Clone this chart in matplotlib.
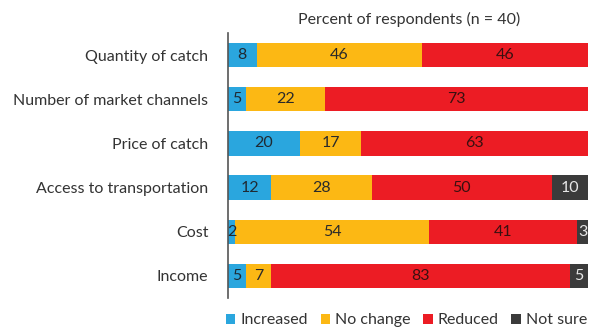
import matplotlib.pyplot as plt
import numpy as np

plt.rcParams['font.family'] = ['Lato', 'DejaVu Sans']

categorias = ["Quantity of catch", "Number of market channels", "Price of catch",
              "Access to transportation", "Cost", "Income"]
increased = [8, 5, 20, 12, 2, 5]
no_change = [46, 22, 17, 28, 54, 7]
reduced = [46, 73, 63, 50, 41, 83]
not_sure = [0, 0, 0, 10, 3, 5]

series = [
    ("Increased", increased, "#2aa6de", "#1f2a33"),
    ("No change", no_change, "#fcb814", "#2a2a2a"),
    ("Reduced", reduced, "#ec1c24", "#3a1010"),
    ("Not sure", not_sure, "#3b3b3b", "#e6e6e6"),
]

fig = plt.figure(figsize=(5.89, 3.31), dpi=100)
ax = fig.add_axes([0.387, 0.10, 0.611, 0.80])

y = np.arange(len(categorias))
izq = np.zeros(len(categorias))
for nombre, valores, color, txt in series:
    valores = np.array(valores, dtype=float)
    ax.barh(y, valores, left=izq, height=0.55, color=color, label=nombre)
    for yi, l, v in zip(y, izq, valores):
        if v > 0:
            ax.text(l + v / 2, yi, f"{int(v)}", ha='center', va='center',
                    fontsize=11.5, color=txt)
    izq += valores

ax.set_xlim(0, 100)
ax.set_ylim(len(categorias) - 0.5, -0.5)
ax.set_yticks(y)
ax.set_yticklabels(categorias, fontsize=11.5, color='#333333')
ax.tick_params(axis='y', length=0, pad=14)
ax.set_xticks([])
for lado in ['top', 'right', 'bottom']:
    ax.spines[lado].set_visible(False)
ax.spines['left'].set_color('#555555')
ax.spines['left'].set_linewidth(1.2)

fig.text(0.694, 0.94, "Percent of respondents (n = 40)", ha='center', va='center',
         fontsize=11.5, color='#333333')

fig.legend(loc='center', bbox_to_anchor=(0.69, 0.032), ncol=4, frameon=False,
           fontsize=11.5, handlelength=0.6, handleheight=0.6, handletextpad=0.3,
           columnspacing=0.8, labelcolor='#333333')

fig.savefig("out.png", dpi=100)
